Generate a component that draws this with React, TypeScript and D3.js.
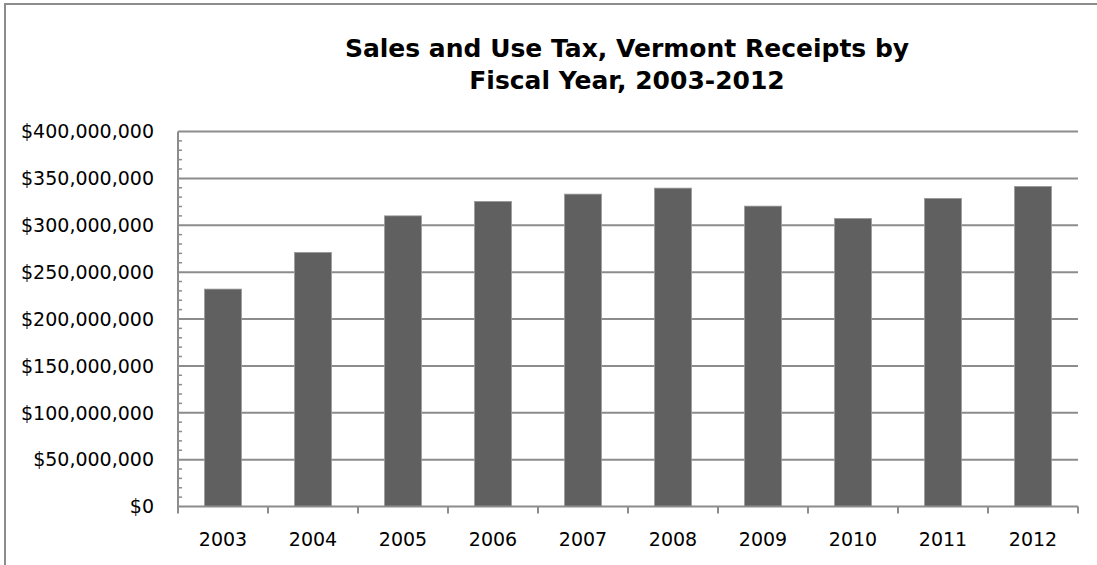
import React from "react";
import * as d3 from "d3";

const years = ["2003", "2004", "2005", "2006", "2007", "2008", "2009", "2010", "2011", "2012"];
const receipts = [231.9e6, 271e6, 310e6, 325.4e6, 333.2e6, 339.6e6, 320.4e6, 307.2e6, 328.6e6, 341.4e6];
const yTicks = [0, 50e6, 100e6, 150e6, 200e6, 250e6, 300e6, 350e6, 400e6];
const titleLines = ["Sales and Use Tax, Vermont Receipts by", "Fiscal Year, 2003-2012"];

export default function App() {
  const W = 1097, H = 565;
  const left = 178, right = 1078, top = 131.5, bottom = 506.5;
  const x = d3.scaleBand<string>().domain(years).range([left, right]).paddingInner(0.59).paddingOuter(0.295);
  const xb = d3.scaleBand<string>().domain(years).range([left, right]);
  const y = d3.scaleLinear().domain([0, 400e6]).range([bottom, top]);
  const minor = d3.range(0, 400e6 + 1, 10e6).filter((v) => v % 50e6 !== 0);
  const fmt = (v: number) => "$" + d3.format(",")(v);
  const grid = "#8c8c8c";
  const font = "'DejaVu Sans', sans-serif";
  return (
    <svg width={W} height={H} style={{ position: "absolute", left: 0, top: 0, background: "#fff" }}>
      <rect x={5} y={4} width={W + 10} height={H + 10} fill="#fff" stroke={grid} strokeWidth={2} />
      {titleLines.map((t, i) => (
        <text key={t} x={627} y={57 + i * 31.5} textAnchor="middle" fontFamily={font} fontWeight="bold" fontSize={25} fill="#000">
          {t}
        </text>
      ))}
      {yTicks.map((v) => (
        <g key={v}>
          {v > 0 && <line x1={left} x2={right} y1={y(v)} y2={y(v)} stroke={grid} strokeWidth={2} />}
          <text x={154} y={y(v)} dy="0.36em" textAnchor="end" fontFamily={font} fontSize={19} fill="#000">
            {fmt(v)}
          </text>
        </g>
      ))}
      {minor.map((v) => (
        <line key={v} x1={left} x2={left + 4} y1={y(v)} y2={y(v)} stroke={grid} strokeWidth={1.5} />
      ))}
      {years.map((yr, i) => (
        <rect key={yr} x={x(yr)} y={y(receipts[i])} width={x.bandwidth()} height={bottom - y(receipts[i])} fill="#606060" stroke="#9a9a9a" strokeWidth={0.8} />
      ))}
      <line x1={left} x2={left} y1={top} y2={bottom + 7} stroke={grid} strokeWidth={2} />
      <line x1={left} x2={right} y1={bottom} y2={bottom} stroke={grid} strokeWidth={2} />
      {years.map((yr) => (
        <line key={"t" + yr} x1={(xb(yr) as number) + xb.bandwidth()} x2={(xb(yr) as number) + xb.bandwidth()} y1={bottom} y2={bottom + 7} stroke={grid} strokeWidth={2} />
      ))}
      {years.map((yr) => (
        <text key={"l" + yr} x={(xb(yr) as number) + xb.bandwidth() / 2} y={546} textAnchor="middle" fontFamily={font} fontSize={19} fill="#000">
          {yr}
        </text>
      ))}
    </svg>
  );
}
